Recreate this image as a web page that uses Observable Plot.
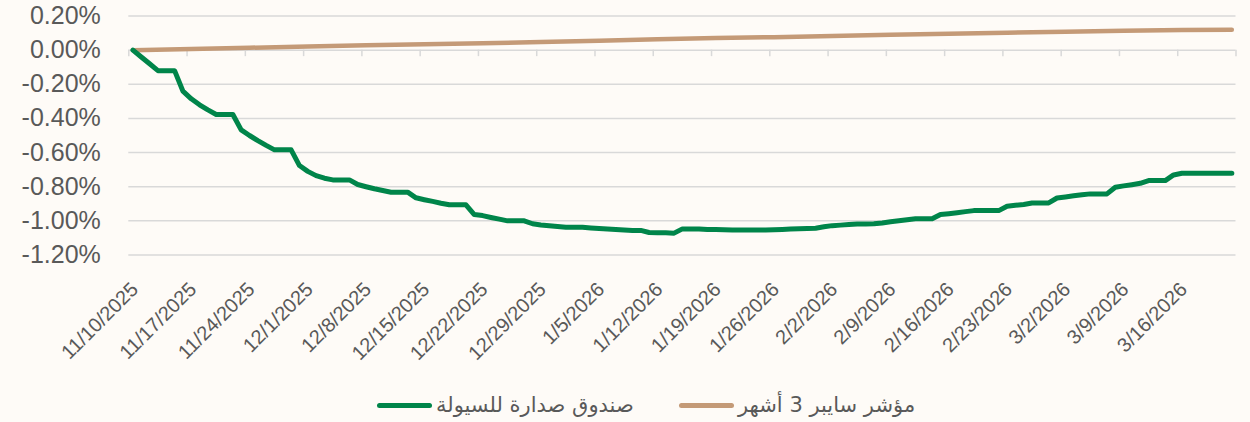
<!DOCTYPE html>
<html><head><meta charset="utf-8">
<script src="https://cdn.jsdelivr.net/npm/d3@7"></script>
<script src="https://cdn.jsdelivr.net/npm/@observablehq/plot@0.6"></script>
<style>
html,body{margin:0;padding:0;background:#fefbf7;}
#chart{position:relative;width:1250px;height:422px;overflow:hidden;background:#fefbf7;}
#legend{position:absolute;left:0;top:385px;width:1250px;height:37px;font-family:"DejaVu Sans",sans-serif;font-size:21px;color:#595959;}
.item{position:absolute;top:0;height:40px;display:flex;align-items:center;white-space:nowrap;}
.sw{width:55px;height:5px;border-radius:3px;margin-right:4px;}
</style></head><body>
<div id="chart"></div>
<script>
// ---- data ----
const startDay = "11/10/2025";
const endDay = "3/23/2026";
const fundName = "صندوق صدارة للسيولة";
const indexName = "مؤشر سايبر 3 أشهر";
// daily cumulative return (%) of the fund, 11/10/2025 .. 3/22/2026
const fundValues = [
 0, -0.04, -0.08, -0.12, -0.12, -0.12, -0.24,
 -0.285, -0.32, -0.35, -0.377, -0.377, -0.377, -0.467,
 -0.50, -0.53, -0.558, -0.584, -0.584, -0.584, -0.676,
 -0.71, -0.735, -0.75, -0.76, -0.76, -0.76, -0.787,
 -0.80, -0.812, -0.822, -0.832, -0.832, -0.832, -0.865,
 -0.876, -0.886, -0.897, -0.906, -0.906, -0.906, -0.963,
 -0.969, -0.98, -0.99, -1.0, -1.0, -1.0, -1.017,
 -1.024, -1.029, -1.033, -1.037, -1.038, -1.038, -1.042,
 -1.045, -1.048, -1.051, -1.054, -1.056, -1.056, -1.068,
 -1.069, -1.07, -1.072, -1.047, -1.047, -1.047, -1.05,
 -1.051, -1.052, -1.053, -1.053, -1.053, -1.053, -1.053,
 -1.052, -1.05, -1.048, -1.046, -1.045, -1.043, -1.035,
 -1.028, -1.025, -1.022, -1.019, -1.018, -1.017, -1.012,
 -1.005, -1.0, -0.994, -0.988, -0.988, -0.988, -0.963,
 -0.958, -0.952, -0.946, -0.94, -0.94, -0.94, -0.94,
 -0.914, -0.909, -0.904, -0.895, -0.895, -0.895, -0.866,
 -0.86, -0.853, -0.847, -0.842, -0.842, -0.842, -0.803,
 -0.795, -0.788, -0.78, -0.764, -0.764, -0.764, -0.731,
 -0.721, -0.721, -0.721, -0.721, -0.721, -0.721, -0.721
];
// 3M SAIBOR index cumulative (%), read weekly
const indexDays = [0,7,14,21,28,35,42,49,56,63,70,77,84,91,98,105,112,119,126,132];
const indexValues = [0,0.007,0.014,0.021,0.028,0.034,0.040,0.047,0.055,0.064,0.071,0.076,0.083,0.090,0.096,0.102,0.108,0.114,0.118,0.119];
const yTicks = [0.2,0,-0.2,-0.4,-0.6,-0.8,-1.0,-1.2];
const xTickLabels = ["11/10/2025","11/17/2025","11/24/2025","12/1/2025","12/8/2025","12/15/2025","12/22/2025","12/29/2025","1/5/2026","1/12/2026","1/19/2026","1/26/2026","2/2/2026","2/9/2026","2/16/2026","2/23/2026","3/2/2026","3/9/2026","3/16/2026"];

// ---- build ----
const parse = d3.utcParse("%m/%d/%Y");
const start = parse(startDay), end = parse(endDay);
const mid = i => d3.utcHour.offset(d3.utcDay.offset(start, i), 12);
const fund = fundValues.map((v, i) => ({date: mid(i), value: v}));
const index = indexDays.map((d, j) => ({date: mid(d), value: indexValues[j]}));
const labelDates = xTickLabels.map(parse);
const tickMarks = [...labelDates, end];
const labelOf = new Map(labelDates.map((d, i) => [+d, xTickLabels[i]]));

const H = 385;
const chart = Plot.plot({
  width: 1250, height: H,
  marginLeft: 128.3, marginRight: 14.5, marginTop: 15.5, marginBottom: H - 254.5,
  style: {background: "transparent", fontFamily: "'Liberation Sans', Arial, sans-serif", color: "#595959", overflow: "visible"},
  x: {type: "utc", domain: [start, end], axis: null},
  y: {domain: [-1.2, 0.2], axis: null},
  marks: [
    Plot.gridY(yTicks, {stroke: "#d9d9d9", strokeOpacity: 1, strokeWidth: 1.5}),
    Plot.ruleX(tickMarks, {x: d => d, y1: 0, y2: -0.038, stroke: "#d9d9d9", strokeWidth: 1.5}),
    Plot.axisY(yTicks, {label: null, tickSize: 0, tickPadding: 28, fontSize: 25, fill: "#595959", tickFormat: d => d.toFixed(2) + "%"}),
    Plot.text(labelDates, {x: d => d, frameAnchor: "bottom", text: d => labelOf.get(+d), rotate: -45,
      textAnchor: "end", lineAnchor: "middle", dx: 6, dy: 31, fontSize: 20, fill: "#595959"}),
    Plot.line(index, {x: "date", y: "value", stroke: "#c49a77", strokeWidth: 4.5, strokeLinecap: "round", strokeLinejoin: "round"}),
    Plot.line(fund, {x: "date", y: "value", stroke: "#00854a", strokeWidth: 5, strokeLinecap: "round", strokeLinejoin: "round"})
  ]
});
const host = document.getElementById("chart");
host.appendChild(chart);
const legend = document.createElement("div");
legend.id = "legend";
legend.innerHTML =
  `<div class="item" style="left:377px"><span class="sw" style="background:#00854a"></span><span>${fundName}</span></div>` +
  `<div class="item" style="left:679px"><span class="sw" style="background:#c49a77"></span><span>${indexName}</span></div>`;
host.appendChild(legend);
</script>
</body></html>
